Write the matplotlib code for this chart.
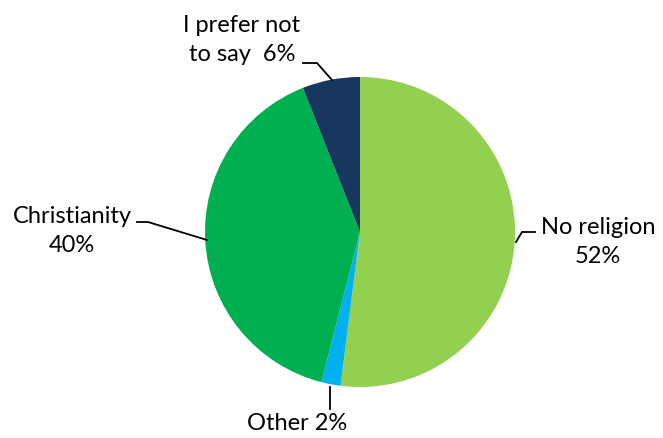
import matplotlib
matplotlib.use("Agg")
import matplotlib.pyplot as plt

categories = ["No religion", "Other", "Christianity", "I prefer not to say"]
values = [52, 2, 40, 6]
colors = ["#92D050", "#00B0F0", "#00B050", "#17375E"]
label_texts = ["No religion\n52%", "Other 2%", "Christianity\n40%", "I prefer not\nto say  6%"]

W, H = 663, 438
fig = plt.figure(figsize=(W / 100, H / 100), dpi=100)
ax = fig.add_axes([0, 0, 1, 1])

cx, cy, r = 360, H - 232, 155
ax.pie(values, colors=colors, startangle=90, counterclock=False,
       center=(cx, cy), radius=r, frame=True,
       wedgeprops=dict(linewidth=0))
ax.set_xlim(0, W)
ax.set_ylim(0, H)
ax.set_aspect("equal")
ax.axis("off")

font = dict(family=["Lato", "DejaVu Sans"], fontsize=17, color="black")

def Y(y):
    return H - y

ax.text(598, Y(242), label_texts[0], ha="center", va="center", linespacing=1.45, **font)
ax.plot([535, 522, 516], [Y(232), Y(232), Y(242)], color="black", lw=1.3)

ax.text(297, Y(424), label_texts[1], ha="center", va="center", **font)
ax.plot([330, 330], [Y(387), Y(409)], color="black", lw=1.3)

ax.text(72, Y(231), label_texts[2], ha="center", va="center", linespacing=1.45, **font)
ax.plot([137, 148, 207], [Y(222), Y(222), Y(240)], color="black", lw=1.3)

ax.text(242, Y(40), label_texts[3], ha="center", va="center", linespacing=1.45, **font)
ax.plot([303, 317, 332], [Y(63), Y(63), Y(80)], color="black", lw=1.3)

fig.savefig("out.png", dpi=100)
